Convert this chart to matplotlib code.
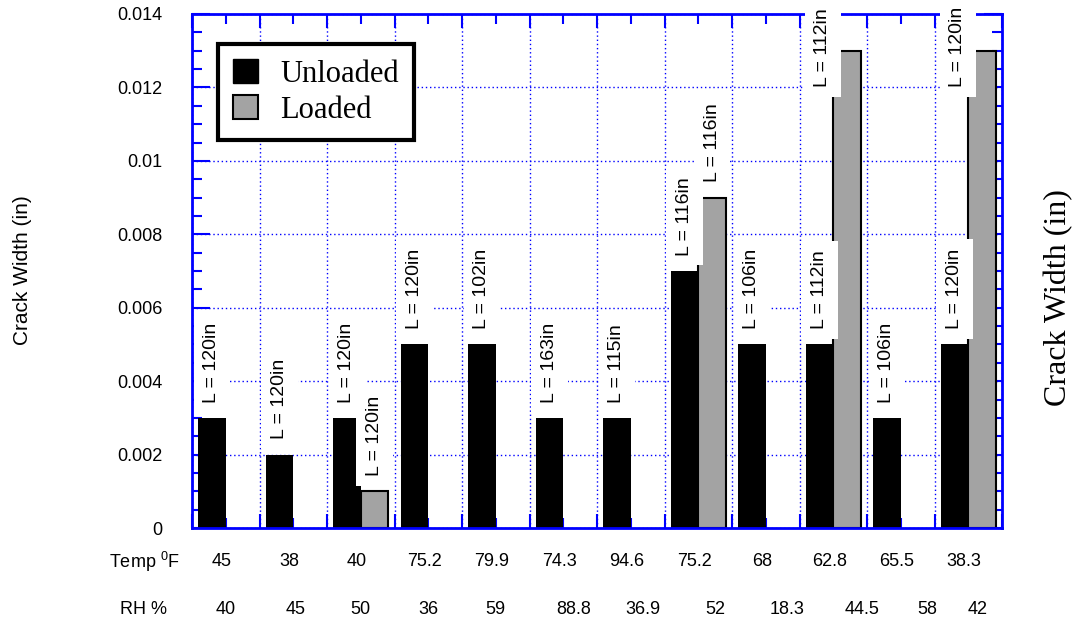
import numpy as np
import matplotlib.pyplot as plt
import matplotlib.transforms as mtransforms
from matplotlib import font_manager
from matplotlib.patches import Patch
from matplotlib.ticker import FixedLocator

# data
temp_f = ['45', '38', '40', '75.2', '79.9', '74.3', '94.6', '75.2', '68', '62.8', '65.5', '38.3']
rh_pct = ['40', '45', '50', '36', '59', '88.8', '36.9', '52', '18.3', '44.5', '58', '42']
unloaded = [0.003, 0.002, 0.003, 0.005, 0.005, 0.003, 0.003, 0.007, 0.005, 0.005, 0.003, 0.005]
loaded = [0, 0, 0.001, 0, 0, 0, 0, 0.009, 0, 0.013, 0, 0.013]
unloaded_len = ['L = 120in', 'L = 120in', 'L = 120in', 'L = 120in', 'L = 102in', 'L = 163in',
                'L = 115in', 'L = 116in', 'L = 106in', 'L = 112in', 'L = 106in', 'L = 120in']
loaded_len = [None, None, 'L = 120in', None, None, None, None, 'L = 116in', None, 'L = 112in', None, 'L = 120in']
yticks = [0, 0.002, 0.004, 0.006, 0.008, 0.01, 0.012, 0.014]
ytick_labels = ['0', '0.002', '0.004', '0.006', '0.008', '0.01', '0.012', '0.014']

# small shifts of the RH row, as in the original
rh_shift = [0, 0.03, 0, 0, 0, 0.16, 0.18, 0.25, 0.31, 0.43, 0.39, 0.14]

installed = {f.name for f in font_manager.fontManager.ttflist}
narrow = 'Liberation Sans Narrow' if 'Liberation Sans Narrow' in installed else 'Liberation Sans'
plt.rcParams['font.family'] = ['Liberation Sans', 'DejaVu Sans']

blue = '#0000ff'
grey = '#a3a3a3'

fig = plt.figure(figsize=(10.74, 6.22), dpi=100)
ax = fig.add_axes([0.1788, 0.1511, 0.7542, 0.8264])

n = len(unloaded)
x = np.arange(n)
w = 0.41
ax.bar(x + 0.09, unloaded, width=w, align='edge', color='black', zorder=2)
has_load = [i for i in range(n) if loaded[i] > 0]
ax.bar(x[has_load] + 0.5, [loaded[i] for i in has_load], width=w, align='edge',
       color=grey, edgecolor='black', linewidth=1.5, zorder=2)

# length labels over the bars
cap = 0.0116
box = dict(boxstyle='square,pad=0.5', fc='white', ec='none')
for i in range(n):
    ax.annotate(unloaded_len[i], (i + 0.09 + w / 2, unloaded[i]), xytext=(0, 11),
                textcoords='offset points', rotation=90, ha='center', va='bottom',
                fontsize=14, family=narrow, bbox=box, zorder=4, annotation_clip=False)
    if loaded_len[i]:
        cx = i + 0.5 + w / 2
        top = loaded[i]
        if top > cap:
            top = cap
            cx -= 0.36
        ax.annotate(loaded_len[i], (cx, top), xytext=(0, 11),
                    textcoords='offset points', rotation=90, ha='center', va='bottom',
                    fontsize=14, family=narrow, bbox=box, zorder=4, annotation_clip=False)

ax.set_xlim(0, n)
ax.set_ylim(0, 0.014)
ax.set_yticks(yticks)
ax.set_yticklabels(ytick_labels, fontsize=13)
ax.yaxis.set_minor_locator(FixedLocator(np.arange(0, 0.01401, 0.0005)))
ax.xaxis.set_major_locator(FixedLocator(np.arange(0, n + 1)))
ax.xaxis.set_minor_locator(FixedLocator(x + 0.5))
ax.set_xticklabels([])

ax.tick_params(axis='both', which='both', direction='in', top=True, right=True,
               color=blue, width=1.5)
ax.tick_params(axis='y', which='major', length=13, pad=21)
ax.tick_params(axis='y', which='minor', length=7)
ax.tick_params(axis='x', which='major', length=10)
ax.tick_params(axis='x', which='minor', length=7)
for s in ax.spines.values():
    s.set_color(blue)
    s.set_linewidth(2)
ax.spines['left'].set_zorder(6)
ax.spines['bottom'].set_zorder(6)

ax.set_axisbelow(True)
ax.grid(which='major', color=blue, linestyle=(0, (1, 2)), linewidth=1)

leg = ax.legend(handles=[Patch(facecolor='black', edgecolor='black', label='Unloaded'),
                         Patch(facecolor=grey, edgecolor='black', linewidth=1.5, label='Loaded')],
                loc='upper left', bbox_to_anchor=(0.032, 0.942), borderaxespad=0,
                prop={'family': 'Liberation Serif', 'size': 22}, fancybox=False,
                framealpha=1, handlelength=0.8, handleheight=0.85, handletextpad=0.75,
                labelspacing=0.2, borderpad=0.5)
leg.get_frame().set_edgecolor('black')
leg.get_frame().set_linewidth(3)
leg.set_zorder(7)

# Temp and RH rows under the axis
trans = mtransforms.blended_transform_factory(ax.transData, fig.transFigure)
for i in range(n):
    ax.text(i + 0.44, 0.0965, temp_f[i], transform=trans, ha='center', va='center', fontsize=13)
    ax.text(i + 0.5 + rh_shift[i], 0.0193, rh_pct[i], transform=trans, ha='center', va='center', fontsize=13)
fig.text(0.1676, 0.0965, r'Temp $^{\mathregular{0}}$F', ha='right', va='center', fontsize=13)
fig.text(0.1555, 0.0193, 'RH %', ha='right', va='center', fontsize=13)

fig.text(0.0205, 0.566, 'Crack Width (in)', rotation=90, ha='center', va='center', fontsize=15)
fig.text(0.986, 0.521, 'Crack Width (in)', rotation=90, ha='center', va='center',
         fontsize=23, family='Liberation Serif')

fig.savefig('out.png', dpi=100)
